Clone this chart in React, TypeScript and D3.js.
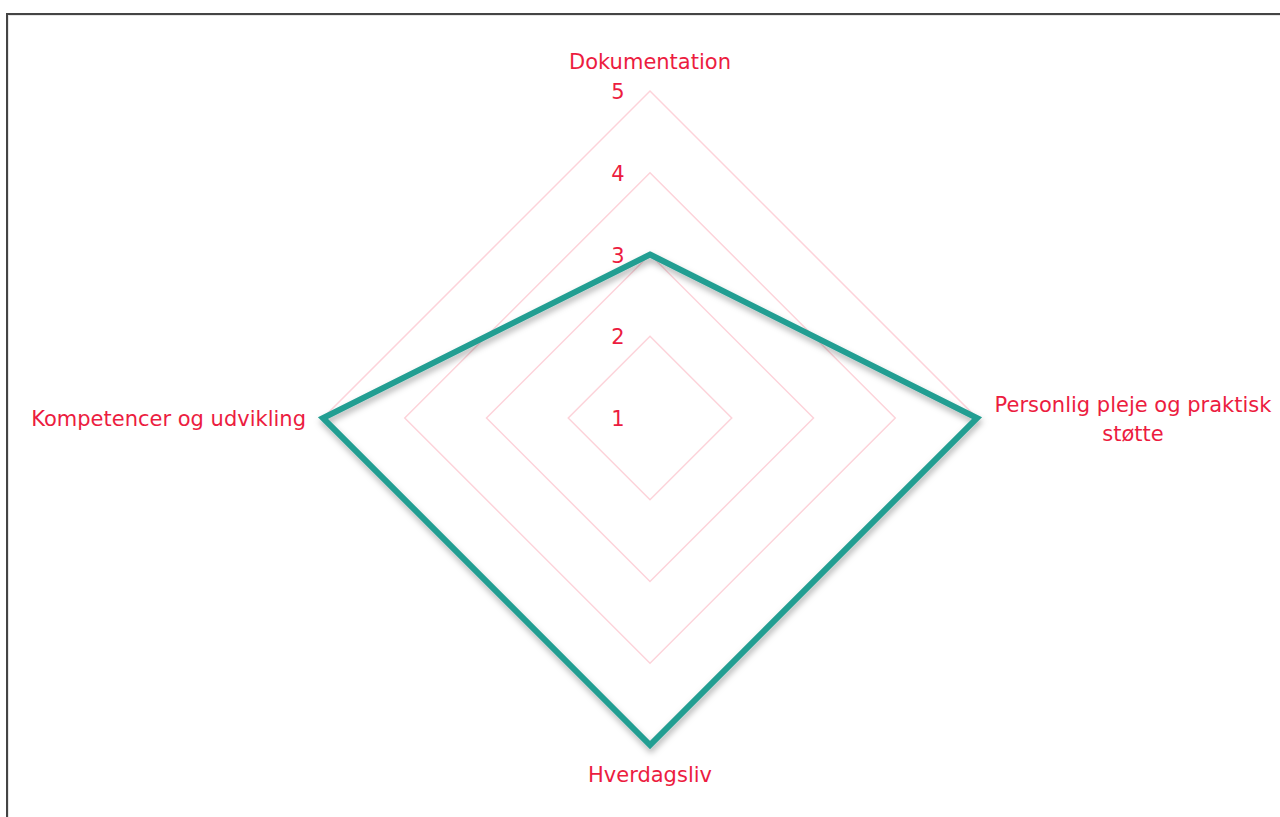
import React, { useEffect, useRef } from 'react';
import * as d3 from 'd3';

// axis names, clockwise from the top
const axes = ['Dokumentation', 'Personlig pleje og praktisk støtte', 'Hverdagsliv', 'Kompetencer og udvikling'];
const values = [3, 5, 5, 5];
const ticks = [1, 2, 3, 4, 5];

const App = () => {
  const svgRef = useRef<SVGSVGElement>(null);

  useEffect(() => {
    const width = 1280;
    const height = 817;
    const cx = 650;
    const cy = 418;
    const red = '#ec1c40';
    const font = '"DejaVu Sans", Verdana, sans-serif';

    const svg = d3.select(svgRef.current)
      .attr('width', width)
      .attr('height', height);
    svg.selectAll('*').remove();

    // frame (only top and left edges are visible)
    svg.append('rect').attr('x', 6).attr('y', 13).attr('width', width).attr('height', 2).attr('fill', '#444');
    svg.append('rect').attr('x', 6).attr('y', 13).attr('width', 2).attr('height', height).attr('fill', '#444');
    svg.append('rect').attr('x', 8).attr('y', 15).attr('width', width).attr('height', 1).attr('fill', '#e6e6e6');
    svg.append('rect').attr('x', 8).attr('y', 15).attr('width', 1).attr('height', height).attr('fill', '#e6e6e6');

    const defs = svg.append('defs');
    defs.append('filter')
      .attr('id', 'shadow')
      .attr('x', '-10%').attr('y', '-10%').attr('width', '120%').attr('height', '120%')
      .append('feDropShadow')
      .attr('dx', 1).attr('dy', 4).attr('stdDeviation', 3)
      .attr('flood-color', '#000').attr('flood-opacity', 0.3);

    const r = d3.scaleLinear().domain([1, 5]).range([0, 327]);
    const angle = d3.scalePoint<string>().domain(axes).range([0, 2 * Math.PI * (axes.length - 1) / axes.length]);

    const g = svg.append('g').attr('transform', `translate(${cx},${cy})`);

    const line = d3.lineRadial<number>()
      .angle((_, i) => angle(axes[i]) as number)
      .radius(d => r(d))
      .curve(d3.curveLinearClosed);

    // grid rings
    g.selectAll('.ring')
      .data(ticks.slice(1))
      .enter()
      .append('path')
      .attr('d', t => line(axes.map(() => t)))
      .attr('fill', 'none')
      .attr('stroke', '#fdd3da')
      .attr('stroke-width', 1.5);

    // tick labels
    g.selectAll('.tick')
      .data(ticks)
      .enter()
      .append('text')
      .attr('x', -32)
      .attr('y', t => -r(t) + 1)
      .attr('text-anchor', 'middle')
      .attr('dominant-baseline', 'central')
      .attr('fill', red)
      .attr('font-family', font)
      .attr('font-size', 21)
      .text(t => t);

    // data polygon
    g.append('path')
      .datum(values)
      .attr('d', line)
      .attr('fill', 'none')
      .attr('stroke', '#249e92')
      .attr('stroke-width', 6)
      .attr('stroke-linejoin', 'miter')
      .attr('filter', 'url(#shadow)');

    // axis labels
    const labelPos = [
      { x: 0, y: -356, anchor: 'middle', lines: ['Dokumentation'] },
      { x: 483, y: -13, anchor: 'middle', lines: ['Personlig pleje og praktisk', 'støtte'] },
      { x: 0, y: 357, anchor: 'middle', lines: ['Hverdagsliv'] },
      { x: -344, y: 1, anchor: 'end', lines: ['Kompetencer og udvikling'] },
    ];
    axes.forEach((a, i) => {
      const p = labelPos[i];
      const t = g.append('text')
        .attr('text-anchor', p.anchor)
        .attr('fill', red)
        .attr('font-family', font)
        .attr('font-size', 21);
      p.lines.forEach((l, j) => {
        t.append('tspan')
          .attr('x', p.x)
          .attr('y', p.y + j * 29)
          .attr('dominant-baseline', 'central')
          .text(l);
      });
    });
  }, []);

  return <svg ref={svgRef} style={{ position: 'absolute', left: 0, top: 0 }}></svg>;
};

export default App;
